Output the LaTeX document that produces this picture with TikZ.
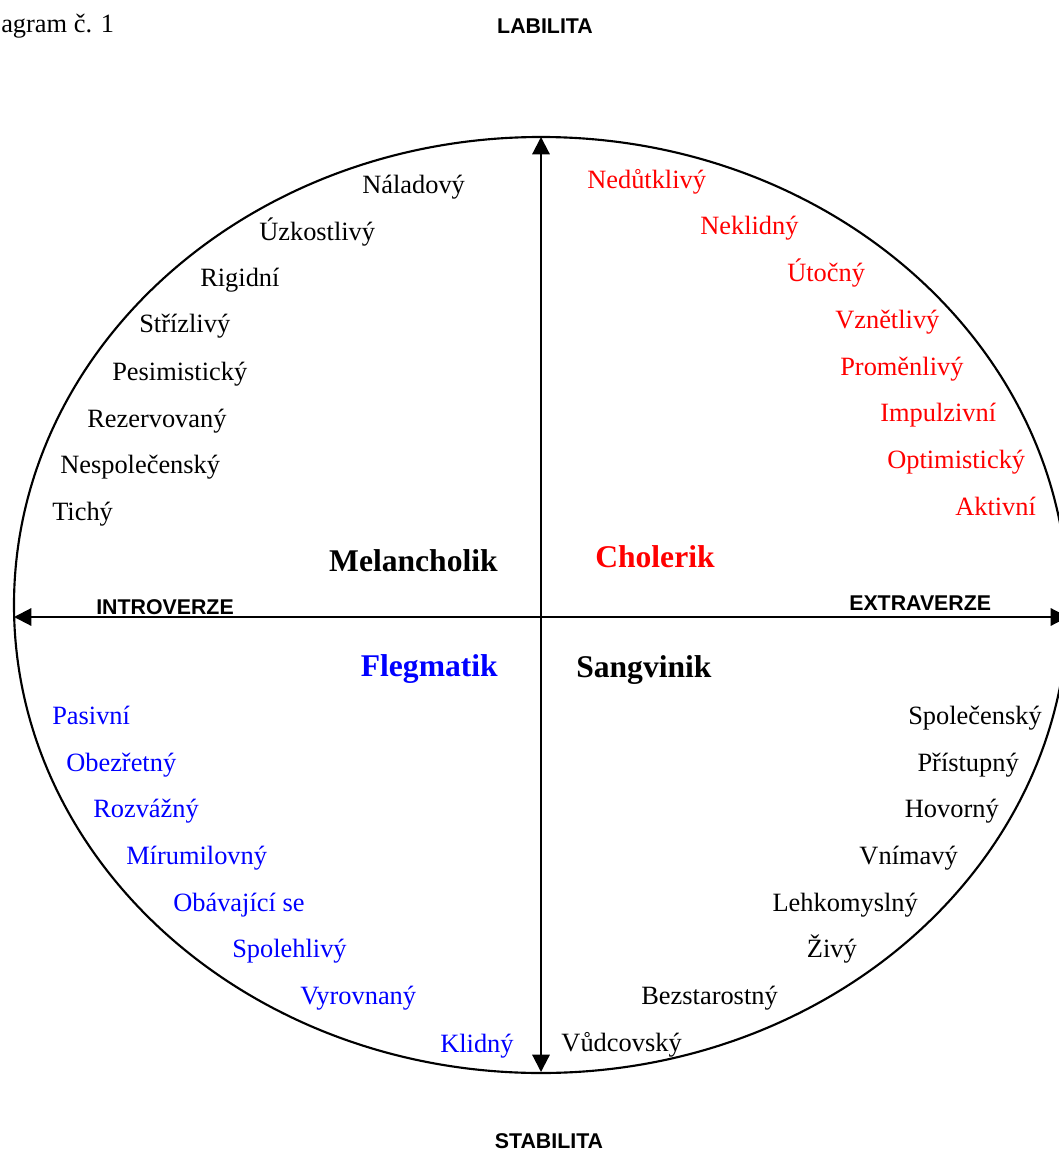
\documentclass[tikz,border=0pt]{standalone}
\usepackage{fontspec}
\setmainfont{Liberation Serif}
\setsansfont{Liberation Sans}
\usetikzlibrary{arrows.meta}

\definecolor{cholred}{RGB}{255,0,0}
\definecolor{flegblue}{RGB}{0,0,255}

\tikzset{
  trait/.style={inner sep=0pt,font=\fontsize{19.8}{24}\selectfont},
  temper/.style={inner sep=0pt,font=\fontsize{23.7}{28}\selectfont\bfseries},
  axislabel/.style={inner sep=0pt,font=\fontsize{16}{20}\selectfont\sffamily\bfseries},
  axisline/.style={line width=1.6pt,{Triangle[length=13pt,width=13pt]}-{Triangle[length=13pt,width=13pt]}}
}

\begin{document}
\begin{tikzpicture}[x=0.75pt,y=-0.75pt]
        \useasboundingbox (0,0) rectangle (1058,1151);
        \draw[line width=1.6pt] (541,605) ellipse (527 and 468);
        % axes
        \coordinate (top) at (541,137);
        \coordinate (bottom) at (541,1072);
        \coordinate (left) at (14,617);
        \coordinate (right) at (1068,617);
        \draw[axisline] (bottom) -- (top);
        \draw[axisline] (left) -- (right);
        % headings
        \node[trait,anchor=base west] (title) at (1,33) {agram č. 1};
        \node[axislabel,anchor=base] (labil) at (545,34) {LABILITA};
        \node[axislabel,anchor=base] (stabil) at (549,1148) {STABILITA};
        \node[axislabel,anchor=base west] (intro) at (96,614) {INTROVERZE};
        \node[axislabel,anchor=base west] (extra) at (849,610) {EXTRAVERZE};
        % temperaments
        \node[temper,anchor=base east] (mel) at (498,571) {Melancholik};
        \node[temper,anchor=base west,text=cholred] (chol) at (595,567) {Cholerik};
        \node[temper,anchor=base east,text=flegblue] (fleg) at (498,676) {Flegmatik};
        \node[temper,anchor=base west] (sang) at (576,677) {Sangvinik};
        % melancholik
        \foreach \x/\y/\t [count=\i] in {362/194/Náladový,259/241/Úzkostlivý,200/287/Rigidní,
            139/333/Střízlivý,112/380/Pesimistický,87/427/Rezervovaný,60/473/Nespolečenský,52/520/Tichý}
            \node[trait,anchor=base west] (mel-\i) at (\x,\y) {\t};
        % cholerik
        \foreach \x/\y/\t [count=\i] in {587/189/Nedůtklivý,700/235/Neklidný,787/282/Útočný,
            835/329/Vznětlivý,840/375/Proměnlivý,880/421/Impulzivní,887/468/Optimistický,955/515/Aktivní}
            \node[trait,anchor=base west,text=cholred] (chol-\i) at (\x,\y) {\t};
        % flegmatik
        \foreach \x/\y/\t [count=\i] in {52/724/Pasivní,66/771/Obezřetný,93/817/Rozvážný,
            126/864/Mírumilovný,173/911/Obávající se,232/957/Spolehlivý,300/1004/Vyrovnaný,440/1052/Klidný}
            \node[trait,anchor=base west,text=flegblue] (fleg-\i) at (\x,\y) {\t};
        % sangvinik
        \foreach \x/\y/\t [count=\i] in {1042/724/Společenský,1019/771/Přístupný,999/817/Hovorný,
            958/864/Vnímavý,918/911/Lehkomyslný,857/957/Živý,778/1004/Bezstarostný,682/1051/Vůdcovský}
            \node[trait,anchor=base east] (sang-\i) at (\x,\y) {\t};
    \end{tikzpicture}
\end{document}
